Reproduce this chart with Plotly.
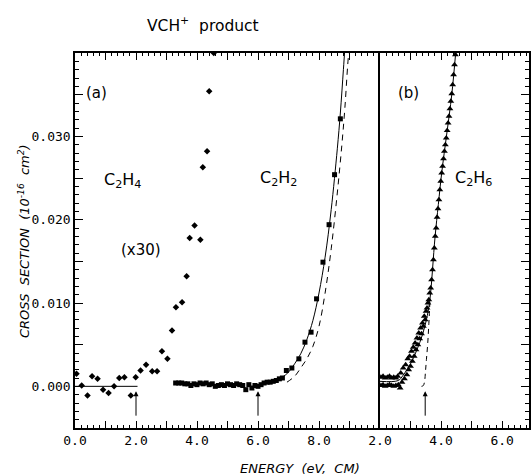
import plotly.graph_objects as go

# ---------------- data ----------------
# panel (a): C2H4 (x30)
c2h4_e = [0.05, 0.22, 0.41, 0.56, 0.74, 0.92, 1.10, 1.28, 1.45, 1.62, 1.83, 1.99, 2.15, 2.33,
          2.53, 2.69, 2.85, 3.03, 3.18, 3.31, 3.51, 3.66, 3.76, 3.92, 4.11, 4.19, 4.33, 4.40, 4.55]
c2h4_v = [0.0015, 0.0001, -0.0011, 0.0012, 0.0009, -0.0004, -0.0008, 0.0000, 0.0010, 0.0011,
          -0.0011, 0.0011, 0.0019, 0.0026, 0.0018, 0.0018, 0.0042, 0.0033, 0.0067, 0.0095,
          0.0101, 0.0132, 0.0178, 0.0193, 0.0176, 0.0263, 0.0282, 0.0354, 0.0400]
c2h4_fit_e = [0.0, 2.05]
c2h4_fit_v = [0.0, 0.0]

# panel (a): C2H2
c2h2_e = [3.3, 3.4, 3.5, 3.6, 3.7, 3.8, 3.9, 4.0, 4.1, 4.2, 4.3, 4.4, 4.5, 4.6, 4.7, 4.8, 4.9,
          5.0, 5.1, 5.2, 5.3, 5.4, 5.5, 5.6, 5.7, 5.8, 5.9, 6.0, 6.1, 6.2, 6.3, 6.4, 6.5, 6.6,
          6.7, 6.8, 6.93, 7.11, 7.34, 7.54, 7.74, 7.92, 8.13, 8.33, 8.51, 8.70]
c2h2_v = [0.0004, 0.0004, 0.0004, 0.0003, 0.0003, 0.0001, 0.0003, 0.0002, 0.0004, 0.0003,
          0.0004, 0.0002, 0.0003, 0.0000, 0.0001, 0.0002, 0.0001, 0.0003, 0.0002, 0.0001,
          0.0003, 0.0002, 0.0001, -0.0004, 0.0002, -0.0002, 0.0001, 0.0000, 0.0002, 0.0004,
          0.0005, 0.0005, 0.0006, 0.0007, 0.0009, 0.0010, 0.0019, 0.0022, 0.0033, 0.0053,
          0.0065, 0.0105, 0.0149, 0.0194, 0.0254, 0.0321]
c2h2_fit_e = [6.4, 6.6, 6.8, 7.0, 7.2, 7.4, 7.6, 7.8, 8.0, 8.2, 8.4, 8.6, 8.7, 8.8, 8.86]
c2h2_fit_v = [0.0005, 0.0007, 0.0011, 0.0017, 0.0027, 0.0039, 0.0056, 0.0079, 0.0112, 0.0155,
              0.0212, 0.0285, 0.0328, 0.0380, 0.0412]
c2h2_dash_e = [6.95, 7.2, 7.4, 7.6, 7.8, 8.0, 8.2, 8.4, 8.6, 8.75, 8.85, 8.94, 9.0]
c2h2_dash_v = [0.0005, 0.0012, 0.0022, 0.0033, 0.0048, 0.0072, 0.0112, 0.0165, 0.0232, 0.0290,
               0.0335, 0.0385, 0.0412]

# panel (b): C2H6
c2h6_e = [2.03, 2.10, 2.17, 2.24, 2.31, 2.38, 2.45, 2.52, 2.58,
          2.03, 2.10, 2.17, 2.24, 2.31, 2.38, 2.45, 2.52, 2.60, 2.66,
          2.68, 2.72, 2.76, 2.80, 2.84, 2.88, 2.91, 2.94, 2.97, 3.00, 3.03, 3.06, 3.09, 3.12,
          3.15, 3.18, 3.21, 3.24, 3.27, 3.30, 3.33, 3.36, 3.39, 3.42, 3.45, 3.48, 3.51, 3.54,
          3.57, 3.60, 3.63, 3.66, 3.69, 3.72, 3.75, 3.78, 3.81, 3.84, 3.87, 3.90, 3.93, 3.96,
          3.99, 4.02, 4.05, 4.08, 4.11, 4.14, 4.17, 4.20, 4.23, 4.26, 4.29, 4.32, 4.35, 4.38,
          4.41, 4.44, 4.47]
c2h6_v = [0.0011, 0.0012, 0.0010, 0.0011, 0.0012, 0.0010, 0.0011, 0.0010, 0.0012,
          0.0001, 0.0002, 0.0000, 0.0001, 0.0002, 0.0001, 0.0000, 0.0001, 0.0002, -0.0002,
          0.0016, 0.0005, 0.0022, 0.0009, 0.0026, 0.0014, 0.0033, 0.0020, 0.0036, 0.0024,
          0.0042, 0.0030, 0.0047, 0.0036, 0.0052, 0.0044, 0.0058, 0.0050, 0.0064, 0.0057,
          0.0070, 0.0063, 0.0076, 0.0072, 0.0084, 0.0080, 0.0090, 0.0094, 0.0100, 0.0104,
          0.0112, 0.0118, 0.0128, 0.0140, 0.0152, 0.0166, 0.0180, 0.0190, 0.0203, 0.0213,
          0.0224, 0.0236, 0.0246, 0.0256, 0.0264, 0.0273, 0.0282, 0.0290, 0.0298, 0.0307,
          0.0316, 0.0324, 0.0333, 0.0342, 0.0351, 0.0362, 0.0374, 0.0386, 0.0398]
c2h6_fit_e = [2.0, 2.6, 2.75, 3.0, 3.2, 3.4, 3.55, 3.64, 3.8, 3.91, 4.02, 4.19, 4.35, 4.49]
c2h6_fit_v = [0.0006, 0.0007, 0.0013, 0.0027, 0.0043, 0.0063, 0.0085, 0.0106, 0.0178, 0.0218,
              0.0256, 0.0304, 0.0350, 0.0405]
c2h6_dash_e = [3.36, 3.42, 3.46, 3.49, 3.52, 3.56, 3.60, 3.64]
c2h6_dash_v = [0.0000, 0.0001, 0.0006, 0.0018, 0.0032, 0.0050, 0.0075, 0.0106]

# thresholds (arrows)
thr_a = [2.0, 6.0]
thr_b = [3.48]

# tick labels that are left blank (unlabelled major ticks)
x_blank = ["1.0", "3.0", "5.0", "7.0", "9.0", "10.0"]
y_blank = ["-0.005", "\u22120.005", "0.005", "0.015", "0.025", "0.035", "0.040"]

# ---------------- figure ----------------
BLACK = "black"
fig = go.Figure()

fig.add_trace(go.Scatter(x=c2h4_fit_e, y=c2h4_fit_v, mode="lines",
                         line=dict(color=BLACK, width=1), xaxis="x", yaxis="y"))
fig.add_trace(go.Scatter(x=c2h4_e, y=c2h4_v, mode="markers",
                         marker=dict(symbol="diamond", size=5, color=BLACK), xaxis="x", yaxis="y"))
fig.add_trace(go.Scatter(x=c2h2_fit_e, y=c2h2_fit_v, mode="lines", line_shape="spline",
                         line=dict(color=BLACK, width=1), xaxis="x", yaxis="y"))
fig.add_trace(go.Scatter(x=c2h2_dash_e, y=c2h2_dash_v, mode="lines", line_shape="spline",
                         line=dict(color=BLACK, width=1, dash="6px,5px"), xaxis="x", yaxis="y"))
fig.add_trace(go.Scatter(x=c2h2_e, y=c2h2_v, mode="markers",
                         marker=dict(symbol="square", size=5, color=BLACK), xaxis="x", yaxis="y"))

fig.add_trace(go.Scatter(x=c2h6_fit_e, y=c2h6_fit_v, mode="lines", line_shape="spline",
                         line=dict(color=BLACK, width=1), xaxis="x2", yaxis="y2"))
fig.add_trace(go.Scatter(x=c2h6_dash_e, y=c2h6_dash_v, mode="lines", line_shape="spline",
                         line=dict(color=BLACK, width=1, dash="5px,4px"), xaxis="x2", yaxis="y2"))
fig.add_trace(go.Scatter(x=c2h6_e, y=c2h6_v, mode="markers",
                         marker=dict(symbol="triangle-up", size=6, color=BLACK), xaxis="x2", yaxis="y2"))

W, H = 531, 476
L, R, T, B = 75, 2, 53, 48
pw = W - L - R
ph = H - T - B
split = (380 - L) / pw

tickfont = dict(family="DejaVu Sans Mono", size=13, color=BLACK)
xminor = dict(dtick=0.2, tick0=0, ticks="inside", ticklen=3.5, tickcolor=BLACK, tickwidth=1)
yminor = dict(dtick=0.001, tick0=0, ticks="inside", ticklen=4, tickcolor=BLACK, tickwidth=1)
common_x = dict(showline=True, linecolor=BLACK, linewidth=1.5, mirror="ticks", ticks="inside",
                ticklen=7, tickwidth=1, tickcolor=BLACK, showgrid=False, zeroline=False,
                tickfont=tickfont, tickmode="linear", tick0=0, dtick=1, tickformat=".1f",
                labelalias={k: "" for k in x_blank}, minor=xminor)
common_y = dict(domain=[0, 1], range=[-0.005, 0.040], tickmode="linear", tick0=0, dtick=0.005,
                tickformat=".3f", labelalias={k: "" for k in y_blank}, ticks="inside",
                ticklen=8, tickwidth=1, tickcolor=BLACK, showline=True, linecolor=BLACK,
                linewidth=1.5, minor=yminor, showgrid=False, zeroline=False, tickfont=tickfont)

fig.update_layout(
    width=W, height=H, margin=dict(l=L, r=R, t=T, b=B),
    paper_bgcolor="white", plot_bgcolor="white", showlegend=False,
    xaxis=dict(domain=[0, split], range=[0, 10], anchor="y", **common_x),
    xaxis2=dict(domain=[split, 1], range=[2.0, 6.88], anchor="y2", **common_x),
    yaxis=dict(anchor="x", mirror=False, **common_y),
    yaxis2=dict(anchor="x2", side="right", showticklabels=False, mirror=True, **common_y),
)

txtfont = dict(family="DejaVu Sans", size=14, color=BLACK)
def ann(x, y, text, xref="x", yref="y", size=14, **kw):
    f = dict(txtfont); f["size"] = size
    fig.add_annotation(x=x, y=y, xref=xref, yref=yref, text=text, showarrow=False,
                       xanchor="center", yanchor="middle", font=f, **kw)

ann(0.72, 0.0352, "(a)", size=15)
ann(1.57, 0.0247, "C<sub>2</sub>H<sub>4</sub>", size=16)
ann(2.16, 0.0164, "(x30)", size=15)
ann(6.66, 0.0249, "C<sub>2</sub>H<sub>2</sub>", size=16)
ann(2.92, 0.0352, "(b)", xref="x2", yref="y2", size=15)
ann(5.05, 0.0249, "C<sub>2</sub>H<sub>6</sub>", xref="x2", yref="y2", size=16)

# title
ann((203 - L) / pw, (H - B - 24) / ph, "VCH<sup>+</sup>  product", xref="paper", yref="paper", size=15.5)
# axis titles
ann((300 - L) / pw, (H - B - 468) / ph,
    "<i>ENERGY  (eV,  CM)</i>", xref="paper", yref="paper", size=13)
ann((24 - L) / pw, (H - B - 241) / ph,
    "<i>CROSS  SECTION  (10<sup>-16</sup>  cm<sup>2</sup>)</i>", xref="paper", yref="paper",
    size=13, textangle=-90)

# threshold arrows
for e in thr_a:
    fig.add_annotation(x=e, y=-0.0006, ax=e, ay=-0.0037, xref="x", yref="y", axref="x", ayref="y",
                       showarrow=True, arrowhead=2, arrowsize=1, arrowwidth=1, arrowcolor=BLACK, text="")
for e in thr_b:
    fig.add_annotation(x=e, y=-0.0006, ax=e, ay=-0.0037, xref="x2", yref="y2", axref="x2", ayref="y2",
                       showarrow=True, arrowhead=2, arrowsize=1, arrowwidth=1, arrowcolor=BLACK, text="")

fig.write_html("out.html", config={"displayModeBar": False},
               post_script="document.body.style.margin='0';")
